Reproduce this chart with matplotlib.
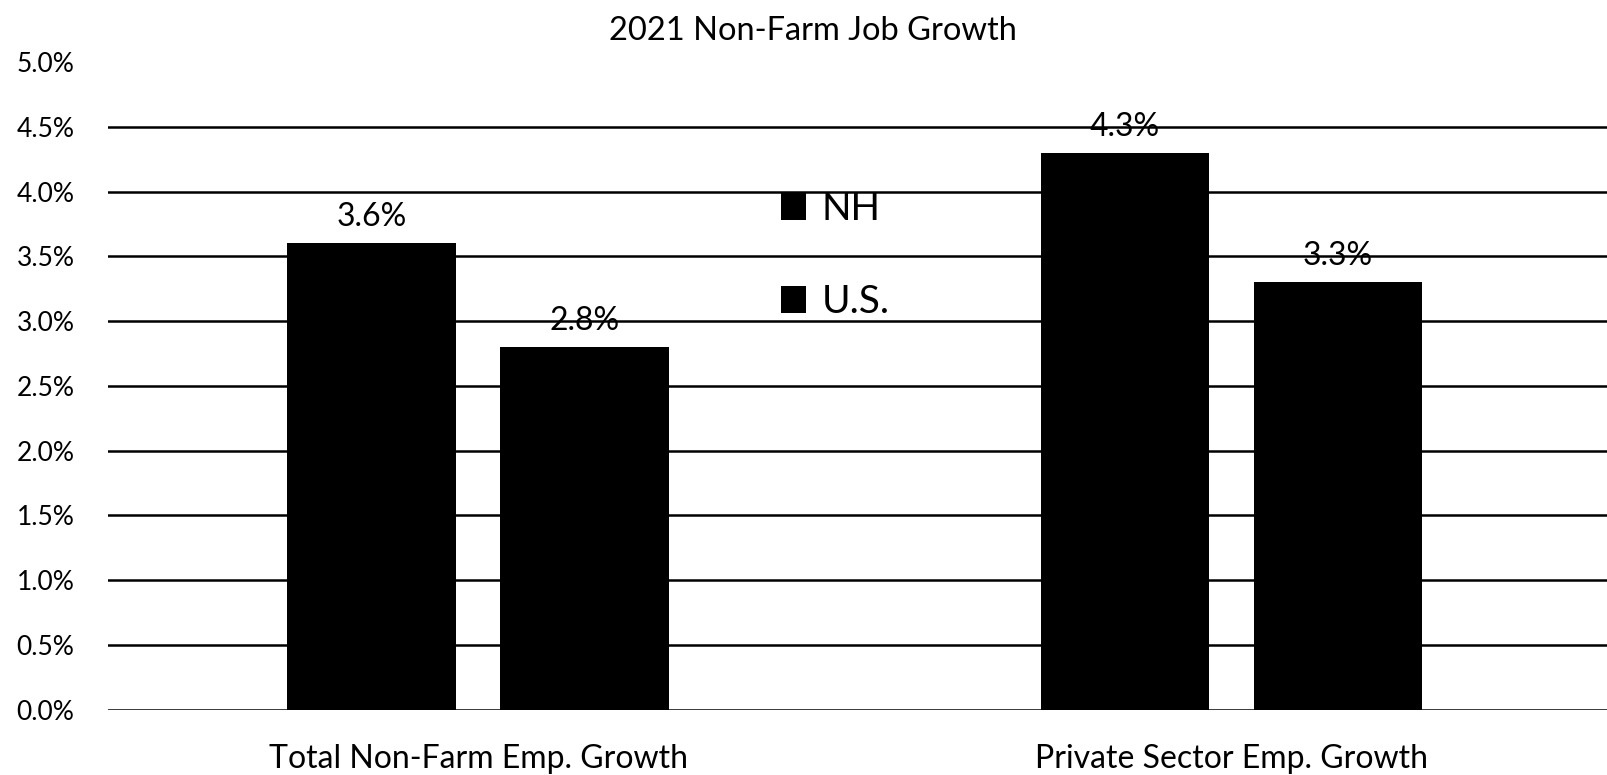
import matplotlib
matplotlib.use("Agg")
import matplotlib.pyplot as plt
import numpy as np

# Data
categories = ["Total Non-Farm Emp. Growth", "Private Sector Emp. Growth"]
series_names = ["NH", "U.S."]
nh_values = [3.6, 4.3]
us_values = [2.8, 3.3]
y_ticks = [0.0, 0.5, 1.0, 1.5, 2.0, 2.5, 3.0, 3.5, 4.0, 4.5, 5.0]
title = "2021 Non-Farm Job Growth"

plt.rcParams["font.family"] = ["Lato", "DejaVu Sans"]

fig = plt.figure(figsize=(16.08, 7.75), dpi=100)
ax = fig.add_axes([0.067, 0.0844, 0.933, 0.8356])

x = np.arange(len(categories))
width = 0.224
offset = 0.1414

# Horizontal gridlines (below the bars)
ax.set_axisbelow(True)
ax.yaxis.grid(True, color="black", linewidth=1.8)
ax.xaxis.grid(False)

b1 = ax.bar(x - offset, nh_values, width, color="black", label=series_names[0], zorder=3)
b2 = ax.bar(x + offset, us_values, width, color="black", label=series_names[1], zorder=3)

for bars in (b1, b2):
    ax.bar_label(bars, labels=[f"{v:.1f}%" for v in bars.datavalues],
                 padding=8, fontsize=23, color="black")

ax.set_ylim(0, 5.0)
ax.set_xlim(-0.492, 1.5)
ax.set_yticks(y_ticks)
ax.set_yticklabels([f"{t:.1f}%" for t in y_ticks], fontsize=19)
ax.set_xticks(x)
ax.set_xticklabels(categories, fontsize=23)
ax.tick_params(axis="y", length=0, pad=24)
ax.tick_params(axis="x", length=0, pad=25)

# The topmost grid line is not shown
for gl, t in zip(ax.yaxis.get_gridlines(), y_ticks):
    if t >= 5.0:
        gl.set_visible(False)

for s in ax.spines.values():
    s.set_visible(False)

fig.text(813 / 1608, 1 - 31 / 775, title, ha="center", va="center", fontsize=23.5)

fig.legend(handles=[b1, b2], labels=series_names, loc="upper left",
           bbox_to_anchor=(0.4857, 0.754), frameon=False, fontsize=28,
           handlelength=0.65, handleheight=0.7, handletextpad=0.39,
           labelspacing=1.48, borderpad=0, borderaxespad=0)

fig.savefig("out.png", dpi=100, facecolor="white")
